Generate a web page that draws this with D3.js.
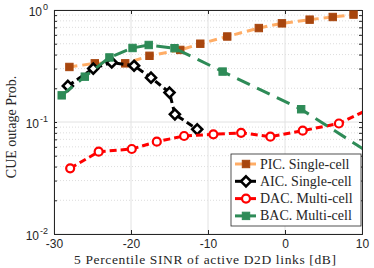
<!DOCTYPE html>
<html>
<head>
<meta charset="utf-8">
<script src="https://cdn.jsdelivr.net/npm/d3@7"></script>
<style>
  body { margin: 0; background: #fff; }
  svg { display: block; }
</style>
</head>
<body>
<div id="chart"></div>
<script>
var svgWidth = 374;
var svgHeight = 268;

var margin = { top: 10, right: 12, bottom: 34, left: 54 };

var width = svgWidth - margin.left - margin.right;
var height = svgHeight - margin.top - margin.bottom;

// data
var picX = [-28.0, -24.7, -20.75, -17.6, -13.6, -11.0, -7.5, -3.4, -0.4, 3.2, 6.2, 8.9];
var picY = [0.31, 0.334, 0.334, 0.39, 0.44, 0.50, 0.58, 0.69, 0.76, 0.82, 0.866, 0.91];

var aicX = [-28.2, -24.9, -22.5, -19.6, -17.4, -15.0, -14.3, -11.4];
var aicY = [0.21, 0.30, 0.34, 0.318, 0.249, 0.183, 0.117, 0.086];

var dacX = [-27.9, -24.2, -19.9, -16.65, -13.1, -9.3, -5.7, -1.9, 2.3, 7.0, 10.8];
var dacY = [0.0386, 0.0543, 0.0574, 0.0667, 0.075, 0.0776, 0.080, 0.074, 0.0836, 0.097, 0.129];

var bacX = [-29.0, -26.0, -22.8, -19.8, -17.7, -14.35, -8.1, 2.1, 13.0];
var bacY = [0.173, 0.254, 0.377, 0.458, 0.487, 0.456, 0.282, 0.130, 0.043];

var xTicks = [-30, -20, -10, 0, 10];
var yTicks = [0.01, 0.1, 1];
var yTickExp = ["-2", "-1", "0"];

var seriesNames = ["PIC. Single-cell", "AIC. Single-cell", "DAC. Multi-cell", "BAC. Multi-cell"];

var series = [
  { name: seriesNames[0], xs: picX, ys: picY, line: "#ffad66", dash: "8,5", marker: "square", mfill: "#a8460e", mstroke: "#a8460e" },
  { name: seriesNames[1], xs: aicX, ys: aicY, line: "#000000", dash: "7,4", marker: "diamond", mfill: "#ffffff", mstroke: "#000000" },
  { name: seriesNames[2], xs: dacX, ys: dacY, line: "#ff0000", dash: "7,4", marker: "circle", mfill: "#ffffff", mstroke: "#ff0000" },
  { name: seriesNames[3], xs: bacX, ys: bacY, line: "#2e8b57", dash: "14,8", marker: "square", mfill: "#2e8b57", mstroke: "#2e8b57" }
];

var svg = d3.select("#chart")
  .append("svg")
  .attr("width", svgWidth)
  .attr("height", svgHeight);

var chartGroup = svg.append("g")
  .attr("transform", `translate(${margin.left}, ${margin.top})`);

var xScale = d3.scaleLinear().domain([-30, 10]).range([0, width]);
var yScale = d3.scaleLog().domain([0.01, 1]).range([height, 0]);

// minor grid (dotted)
var minorY = [];
[0.01, 0.1].forEach(function(d) {
  for (var k = 2; k <= 9; k++) minorY.push(d * k);
});

chartGroup.append("g")
  .selectAll("line")
  .data(minorY)
  .enter()
  .append("line")
  .attr("x1", 0)
  .attr("x2", width)
  .attr("y1", d => yScale(d))
  .attr("y2", d => yScale(d))
  .attr("stroke", "#d4d4d4")
  .attr("stroke-width", 0.8)
  .attr("stroke-dasharray", "1,2");

// major grid
chartGroup.append("g")
  .selectAll("line")
  .data(xTicks)
  .enter()
  .append("line")
  .attr("x1", d => xScale(d))
  .attr("x2", d => xScale(d))
  .attr("y1", 0)
  .attr("y2", height)
  .attr("stroke", "#e2e2e2")
  .attr("stroke-width", 1);

chartGroup.append("g")
  .selectAll("line")
  .data(yTicks)
  .enter()
  .append("line")
  .attr("x1", 0)
  .attr("x2", width)
  .attr("y1", d => yScale(d))
  .attr("y2", d => yScale(d))
  .attr("stroke", "#e2e2e2")
  .attr("stroke-width", 1);

// axes
var bottomAxis = d3.axisBottom(xScale).tickValues(xTicks).tickSize(-4).tickFormat(d => String(d));
var topAxis = d3.axisTop(xScale).tickValues(xTicks).tickSize(-4).tickFormat("");
var leftAxis = d3.axisLeft(yScale).tickValues(yTicks.concat(minorY)).tickSize(-3).tickFormat("");
var rightAxis = d3.axisRight(yScale).tickValues(yTicks.concat(minorY)).tickSize(-3).tickFormat("");

var xAxis = chartGroup.append("g")
  .attr("transform", `translate(0, ${height})`)
  .call(bottomAxis);
chartGroup.append("g").call(topAxis);
chartGroup.append("g").call(leftAxis);
chartGroup.append("g").attr("transform", `translate(${width}, 0)`).call(rightAxis);

chartGroup.selectAll(".domain").attr("stroke", "#262626").attr("stroke-width", 1);
chartGroup.selectAll(".tick line").attr("stroke", "#262626");

xAxis.selectAll("text")
  .attr("y", 5.5)
  .attr("font-family", "Liberation Sans, Arial, sans-serif")
  .attr("font-size", 12)
  .attr("fill", "#262626");

// y tick labels 10^n
var yLabels = chartGroup.append("g");
yTicks.forEach(function(d, i) {
  var t = yLabels.append("text")
    .attr("x", -6)
    .attr("y", yScale(d) + 6)
    .attr("text-anchor", "end")
    .attr("font-family", "Liberation Sans, Arial, sans-serif")
    .attr("font-size", 12)
    .attr("fill", "#262626");
  t.append("tspan").text("10");
  t.append("tspan")
    .attr("dy", -6)
    .attr("dx", 1)
    .attr("font-size", 9)
    .text(yTickExp[i]);
});

// lines
svg.append("clipPath").attr("id", "plotclip")
  .append("rect").attr("width", width).attr("height", height);

var plot = chartGroup.append("g").attr("clip-path", "url(#plotclip)");

var line = d3.line()
  .x(d => xScale(d[0]))
  .y(d => yScale(d[1]));

function drawMarker(g, type, fill, stroke) {
  if (type === "square") {
    g.append("rect").attr("x", -3.7).attr("y", -3.7).attr("width", 7.4).attr("height", 7.4)
      .attr("fill", fill).attr("stroke", stroke).attr("stroke-width", 1);
  } else if (type === "diamond") {
    g.append("path").attr("d", "M0,-5L5,0L0,5L-5,0Z")
      .attr("fill", fill).attr("stroke", stroke).attr("stroke-width", 2.6);
  } else {
    g.append("circle").attr("r", 4)
      .attr("fill", fill).attr("stroke", stroke).attr("stroke-width", 2.2);
  }
}

series.forEach(function(s) {
  var pts = s.xs.map((x, i) => [x, s.ys[i]]);
  plot.append("path")
    .datum(pts)
    .attr("d", line)
    .attr("fill", "none")
    .attr("stroke", s.line)
    .attr("stroke-width", 3)
    .attr("stroke-dasharray", s.dash);
  pts.forEach(function(p) {
    var g = plot.append("g")
      .attr("transform", `translate(${xScale(p[0])}, ${yScale(p[1])})`);
    drawMarker(g, s.marker, s.mfill, s.mstroke);
  });
});

// legend
var legend = svg.append("g").attr("transform", "translate(231, 154)");
legend.append("rect")
  .attr("width", 130)
  .attr("height", 72)
  .attr("fill", "#fff")
  .attr("stroke", "#262626")
  .attr("stroke-width", 0.8);

series.forEach(function(s, i) {
  var ly = 10 + i * 17.3;
  var row = legend.append("g").attr("transform", `translate(0, ${ly})`);
  row.append("line")
    .attr("x1", 4).attr("x2", 25)
    .attr("y1", 0).attr("y2", 0)
    .attr("stroke", s.line)
    .attr("stroke-width", 3);
  var g = row.append("g").attr("transform", "translate(15, 0)");
  drawMarker(g, s.marker, s.mfill, s.mstroke);
  row.append("text")
    .attr("x", 29)
    .attr("y", 4.5)
    .attr("font-family", "Liberation Serif, Times New Roman, serif")
    .attr("font-size", 14)
    .attr("fill", "#262626")
    .text(s.name);
});

// axis titles
svg.append("text")
  .attr("x", 205)
  .attr("y", 263.5)
  .attr("text-anchor", "middle")
  .attr("font-family", "Liberation Serif, Times New Roman, serif")
  .attr("font-size", 13.5)
  .attr("textLength", 262)
  .attr("lengthAdjust", "spacing")
  .attr("fill", "#262626")
  .text("5 Percentile SINR of active D2D links [dB]");

svg.append("text")
  .attr("transform", "translate(16, 127) rotate(-90)")
  .attr("text-anchor", "middle")
  .attr("font-family", "Liberation Serif, Times New Roman, serif")
  .attr("font-size", 14)
  .attr("fill", "#262626")
  .text("CUE outage Prob.");
</script>
</body>
</html>
